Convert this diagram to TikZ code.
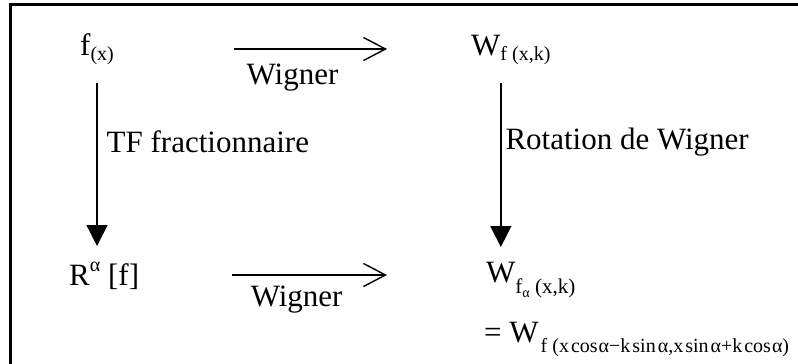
\documentclass[tikz,border=0pt]{standalone}
\usepackage{fontspec}
\setmainfont{Liberation Serif}
\usepackage{tikz}
\usetikzlibrary{arrows.meta,positioning,calc}

\newcommand{\subtxt}[1]{{\fontsize{20}{24}\selectfont #1}}
\newcommand{\subsubtxt}[1]{{\fontsize{14}{16}\selectfont #1}}
\newcommand{\longsub}[1]{{\fontsize{20}{23}\selectfont #1}}

\begin{document}
\begin{tikzpicture}[
    x=1pt, y=-1pt,
    term/.style={inner sep=0pt, anchor=base west, font=\fontsize{31}{36}\selectfont},
    lbl/.style={inner sep=0pt, font=\fontsize{31}{36}\selectfont},
    wig/.style={-{Straight Barb[length=22pt, width=23pt, line width=1.4pt]}, line width=1.4pt},
    rot/.style={-{Triangle[length=21pt, width=21pt]}, line width=1.4pt}
  ]
    \useasboundingbox (0,0) rectangle (798,364);
    % Frame
    \draw[line width=3pt] (10,4) rectangle (830,390);

    % Top row
    \node[term] (fx) at (80,55) {f\raisebox{-5pt}{\subtxt{(x)}}};
    \node[term] (wf) at (471,55) {W\raisebox{-5pt}{\subtxt{f (x,k)}}};

    % Bottom row
    \node[term] (ralpha) at (69,285) {R\raisebox{14pt}{\subtxt{α}} [f]};
    \node[term] (wfa) at (486,282) {W\raisebox{-11pt}{\fontsize{21}{24}\selectfont f\raisebox{-4pt}{\subsubtxt{α}} (x,k)}};
    \node[term] (weq) at (484,342) {= W\kern2pt\raisebox{-10pt}{\longsub{f (x\kern2pt cos\kern1pt α−k\kern2pt sin\kern2pt α,x\kern2pt sin\kern2pt α+k\kern2pt cos\kern1pt α)}}};

    % Arrows
    \draw[wig, shorten <=120pt, shorten >=84pt]
      ([yshift=6pt]fx.base east) -- node[lbl, below=14pt] (wig1) {Wigner} ([yshift=6pt]wf.base west);
    \draw[wig, shorten <=93pt, shorten >=99pt]
      ([yshift=10pt]ralpha.base east) -- node[lbl, below=10pt, xshift=-16pt] (wig2) {Wigner} ([yshift=7pt]wfa.base west);
    \draw[rot] ([yshift=-28pt]fx.base) -- node[lbl, pos=0.36, right=9pt] (tf) {TF fractionnaire}
      ([yshift=39pt]fx.base |- ralpha.base);
    \draw[rot] ([xshift=-10pt, yshift=-28pt]wf.base) -- node[lbl, pos=0.36, right=4pt] (rw) {Rotation de Wigner}
      ([xshift=-10pt, yshift=35pt]wf.base |- wfa.base);
  \end{tikzpicture}
\end{document}
